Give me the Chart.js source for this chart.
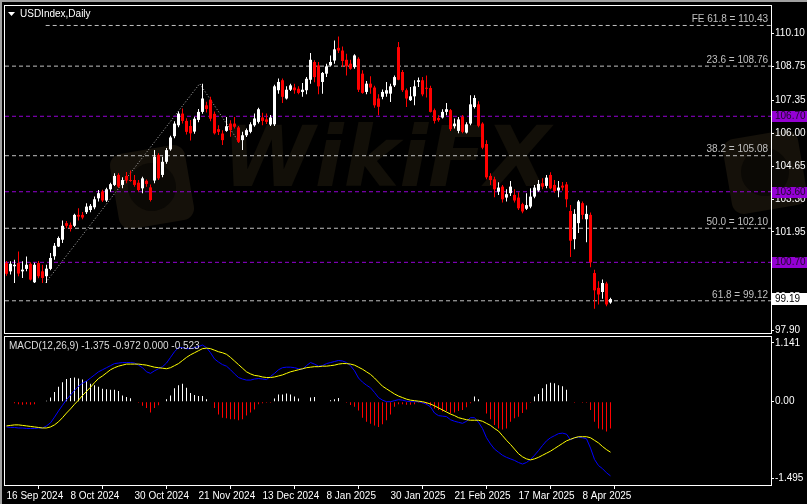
<!DOCTYPE html>
<html>
<head>
<meta charset="utf-8">
<title>USDIndex,Daily</title>
<script src="https://cdn.jsdelivr.net/npm/chart.js@4.4.1/dist/chart.umd.min.js"></script>
<style>
  html, body { margin: 0; padding: 0; background: #000; }
  #wrap { position: relative; width: 807px; height: 504px; overflow: hidden; background: #000; }
  #priceChart { position: absolute; left: 0; top: 0; }
  #macdChart { position: absolute; left: 0; top: 336px; }
  #edgeTop { position: absolute; left: 0; top: 0; width: 807px; height: 2px; background: #a0a0a0; }
  #edgeLeft { position: absolute; left: 0; top: 0; width: 2px; height: 504px; background: #a0a0a0; }
</style>
</head>
<body>
<div id="wrap">
  <canvas id="priceChart" width="807" height="336"></canvas>
  <canvas id="macdChart" width="807" height="168"></canvas>
  <div id="edgeTop"></div>
  <div id="edgeLeft"></div>
</div>
<script>
// Daily bars, 16 Sep 2024 -> 17 Apr 2025 (index 0..151)
const opens = [
  100.67, 100.33, 100.54, 100.67, 100.33, 100.43, 100.64, 99.88, 100.67, 100.33,
  100.13, 100.43, 100.95, 101.35, 101.63, 102.31, 102.24, 102.20, 102.65, 102.65,
  102.76, 102.85, 102.96, 103.33, 103.61, 103.24, 103.70, 103.88, 104.29, 103.88,
  104.25, 104.08, 104.08, 103.97, 103.74, 104.05, 103.78, 104.06, 105.11, 104.29,
  104.83, 105.34, 105.88, 106.33, 106.81, 106.51, 106.30, 106.07, 106.55, 106.88,
  107.15, 107.38, 106.80, 106.17, 105.99, 106.10, 106.40, 106.40, 106.24, 105.72,
  105.92, 106.06, 106.33, 106.47, 106.65, 106.57, 106.36, 106.37, 107.77, 108.18,
  107.43, 107.79, 107.88, 107.83, 107.70, 107.77, 108.20, 108.93, 108.79, 108.11,
  108.45, 108.79, 108.99, 109.51, 109.40, 109.02, 108.86, 108.72, 109.06, 108.45,
  107.70, 108.04, 107.88, 107.43, 107.50, 107.63, 107.63, 107.97, 109.54, 108.52,
  107.77, 107.36, 107.52, 108.11, 108.18, 107.86, 107.86, 106.95, 106.63, 106.65,
  106.88, 106.95, 106.29, 106.10, 106.67, 106.03, 106.40, 107.08, 107.19, 106.40,
  105.56, 104.25, 104.11, 103.60, 103.81, 103.36, 103.54, 103.47, 103.36, 103.09,
  102.90, 102.99, 103.40, 103.65, 103.95, 103.84, 104.29, 103.88, 103.65, 103.85,
  103.90, 102.81, 101.65, 102.31, 103.13, 102.47, 102.65, 100.26, 99.65, 99.48,
  99.83, 99.05
];
const highs = [
  100.75, 100.74, 100.81, 101.15, 100.74, 100.94, 100.70, 100.68, 100.75, 100.60,
  100.60, 101.08, 101.49, 101.76, 102.42, 102.40, 102.34, 102.70, 102.92, 102.77,
  103.13, 103.10, 103.40, 103.67, 103.68, 103.76, 103.97, 104.36, 104.36, 104.19,
  104.41, 104.47, 104.29, 104.08, 104.22, 104.10, 103.90, 105.31, 105.18, 105.04,
  105.40, 105.90, 106.50, 106.90, 107.02, 106.62, 106.55, 106.68, 107.00, 108.04,
  107.30, 107.50, 106.90, 106.33, 106.13, 106.67, 106.54, 106.67, 106.30, 106.06,
  106.20, 106.45, 106.81, 107.05, 106.84, 106.81, 106.75, 108.00, 108.25, 108.25,
  107.93, 108.04, 108.04, 107.93, 108.07, 108.31, 109.30, 109.00, 108.93, 108.52,
  108.86, 109.20, 109.81, 109.98, 109.57, 109.27, 109.02, 109.25, 109.12, 108.59,
  108.15, 108.34, 107.95, 107.60, 107.80, 108.11, 108.04, 108.38, 109.75, 108.60,
  107.84, 107.90, 108.18, 108.29, 108.31, 108.38, 107.95, 107.02, 106.74, 106.99,
  107.25, 107.00, 106.61, 106.67, 106.75, 106.45, 107.56, 107.56, 107.32, 106.45,
  105.72, 104.36, 104.22, 103.99, 103.88, 103.70, 104.04, 103.70, 103.58, 103.15,
  103.54, 103.74, 103.88, 104.08, 104.15, 104.29, 104.40, 104.08, 104.04, 104.00,
  104.00, 103.06, 102.88, 103.26, 103.20, 103.03, 102.75, 100.40, 99.92, 99.99,
  99.90, 99.25
];
const lows = [
  100.15, 100.20, 99.85, 100.13, 100.06, 100.33, 99.95, 99.85, 100.05, 99.85,
  99.85, 100.37, 100.81, 101.33, 101.49, 102.10, 101.97, 102.15, 102.42, 102.47,
  102.69, 102.76, 102.88, 103.20, 103.18, 103.18, 103.60, 103.84, 103.75, 103.74,
  103.95, 104.01, 103.81, 103.61, 103.54, 103.80, 103.20, 103.95, 104.08, 104.19,
  104.75, 105.28, 105.80, 106.25, 106.40, 105.95, 105.70, 105.98, 106.45, 106.80,
  106.85, 106.50, 105.95, 105.93, 105.52, 106.06, 105.86, 106.20, 105.60, 105.31,
  105.85, 106.00, 106.27, 106.40, 106.33, 106.38, 106.30, 106.30, 107.63, 107.25,
  107.39, 107.74, 107.63, 107.60, 107.50, 107.60, 108.04, 108.10, 107.60, 107.63,
  108.31, 108.75, 108.86, 109.30, 108.72, 108.38, 108.61, 108.65, 107.70, 107.63,
  107.60, 107.63, 107.05, 106.74, 107.40, 107.50, 107.29, 107.90, 108.18, 107.70,
  107.08, 107.33, 107.15, 107.90, 107.52, 107.47, 106.85, 106.40, 106.47, 106.61,
  106.74, 106.10, 106.20, 106.00, 106.00, 105.99, 106.33, 107.02, 106.25, 105.35,
  104.11, 103.88, 103.37, 103.47, 103.16, 103.20, 103.43, 103.16, 102.85, 102.72,
  102.85, 102.92, 103.33, 103.60, 103.70, 103.74, 103.70, 103.56, 103.37, 103.65,
  102.96, 100.92, 101.24, 101.90, 102.47, 101.52, 100.50, 98.79, 98.97, 99.20,
  98.90, 99.00
];
const closes = [
  100.23, 100.64, 100.60, 100.24, 100.40, 100.60, 99.99, 100.60, 100.13, 100.06,
  100.44, 100.88, 101.38, 101.70, 102.20, 102.20, 102.10, 102.65, 102.58, 102.54,
  102.99, 103.02, 103.29, 103.54, 103.24, 103.70, 103.91, 104.25, 103.81, 104.08,
  104.06, 104.04, 103.88, 103.67, 104.15, 103.92, 103.26, 105.04, 104.15, 104.83,
  105.31, 105.83, 106.40, 106.81, 106.51, 106.06, 106.00, 106.60, 106.88, 107.43,
  107.00, 106.60, 106.00, 106.06, 105.72, 106.29, 106.13, 106.27, 105.65, 105.92,
  106.13, 106.37, 106.61, 106.99, 106.51, 106.47, 106.65, 107.93, 108.11, 107.50,
  107.79, 107.97, 107.77, 107.66, 107.79, 108.24, 109.02, 108.31, 107.93, 108.48,
  108.75, 108.93, 109.45, 109.40, 108.97, 108.75, 108.65, 109.20, 107.79, 107.66,
  108.04, 107.88, 107.15, 107.09, 107.70, 107.77, 107.93, 108.31, 108.20, 107.77,
  107.43, 107.52, 107.93, 108.18, 107.60, 107.83, 106.88, 106.51, 106.54, 106.88,
  106.99, 106.17, 106.40, 106.57, 106.06, 106.37, 107.19, 107.45, 106.31, 105.41,
  104.19, 104.08, 103.70, 103.77, 103.29, 103.50, 103.81, 103.24, 102.92, 102.79,
  103.05, 103.40, 103.77, 103.92, 103.81, 104.18, 103.74, 103.63, 103.77, 103.77,
  103.29, 101.59, 102.69, 103.20, 102.65, 102.69, 100.70, 99.55, 99.38, 99.85,
  98.97, 99.19
];

// MACD(12,26,9): main line, signal line, histogram
const macdMain = [
  -0.49, -0.50, -0.50, -0.51, -0.51, -0.52, -0.52, -0.52, -0.51, -0.51,
  -0.47, -0.41, -0.30, -0.18, -0.07, 0.04, 0.13, 0.22, 0.30, 0.36,
  0.40, 0.46, 0.52, 0.58, 0.62, 0.66, 0.70, 0.74, 0.75, 0.76,
  0.76, 0.76, 0.75, 0.71, 0.66, 0.58, 0.55, 0.60, 0.64, 0.68,
  0.75, 0.86, 0.97, 1.05, 1.05, 1.03, 1.03, 1.05, 1.07, 1.10,
  1.05, 0.95, 0.83, 0.77, 0.72, 0.69, 0.62, 0.54, 0.47, 0.44,
  0.42, 0.42, 0.44, 0.45, 0.44, 0.43, 0.49, 0.55, 0.62, 0.66,
  0.67, 0.67, 0.66, 0.64, 0.63, 0.70, 0.76, 0.73, 0.69, 0.70,
  0.74, 0.76, 0.78, 0.80, 0.79, 0.76, 0.70, 0.60, 0.46, 0.38,
  0.32, 0.27, 0.18, 0.08, 0.03, 0.00, 0.00, 0.02, 0.04, 0.03,
  0.01, 0.00, 0.00, 0.00, -0.02, -0.05, -0.10, -0.22, -0.27, -0.28,
  -0.29, -0.35, -0.38, -0.40, -0.42, -0.38, -0.31, -0.31, -0.40, -0.52,
  -0.70, -0.82, -0.92, -0.98, -1.04, -1.08, -1.11, -1.14, -1.18, -1.21,
  -1.18, -1.12, -1.04, -0.95, -0.85, -0.76, -0.70, -0.66, -0.62, -0.61,
  -0.63, -0.74, -0.70, -0.69, -0.70, -0.72, -0.90, -1.12, -1.24, -1.30,
  -1.38, -1.44
];
const macdSignal = [
  -0.47, -0.46, -0.45, -0.45, -0.46, -0.47, -0.48, -0.49, -0.50, -0.51,
  -0.51, -0.49, -0.45, -0.39, -0.31, -0.22, -0.14, -0.05, 0.03, 0.12,
  0.20, 0.28, 0.37, 0.45, 0.50, 0.56, 0.62, 0.66, 0.69, 0.71,
  0.73, 0.73, 0.73, 0.73, 0.72, 0.71, 0.69, 0.67, 0.66, 0.65,
  0.64, 0.66, 0.70, 0.74, 0.80, 0.86, 0.91, 0.95, 0.99, 1.03,
  1.04, 1.03, 1.00, 0.97, 0.95, 0.92, 0.86, 0.79, 0.72, 0.65,
  0.58, 0.54, 0.51, 0.50, 0.48, 0.47, 0.47, 0.48, 0.50, 0.52,
  0.55, 0.58, 0.60, 0.62, 0.64, 0.66, 0.67, 0.68, 0.68, 0.69,
  0.69, 0.70, 0.71, 0.73, 0.74, 0.74, 0.73, 0.71, 0.67, 0.63,
  0.58, 0.53, 0.46, 0.38, 0.30, 0.25, 0.20, 0.15, 0.11, 0.08,
  0.05, 0.03, 0.02, 0.01, 0.00, -0.02, -0.045, -0.08, -0.12, -0.16,
  -0.20, -0.24, -0.27, -0.31, -0.33, -0.35, -0.36, -0.36, -0.36, -0.38,
  -0.42, -0.46, -0.52, -0.57, -0.66, -0.75, -0.83, -0.92, -1.01, -1.07,
  -1.11, -1.13, -1.11, -1.08, -1.04, -1.00, -0.96, -0.91, -0.86, -0.81,
  -0.76, -0.73, -0.70, -0.68, -0.68, -0.68, -0.70, -0.75, -0.80, -0.87,
  -0.93, -0.98
];
const macdHist = [
  0.01, 0.00, -0.03, -0.05, -0.06, -0.05, -0.06, -0.05, 0.00, 0.00,
  0.02, 0.08, 0.19, 0.29, 0.38, 0.44, 0.46, 0.47, 0.45, 0.43,
  0.40, 0.35, 0.32, 0.29, 0.25, 0.24, 0.23, 0.23, 0.21, 0.12,
  0.09, 0.065, 0.01, -0.02, -0.08, -0.12, -0.21, -0.12, -0.07, -0.01,
  0.05, 0.12, 0.26, 0.32, 0.35, 0.27, 0.17, 0.13, 0.11, 0.11,
  0.05, 0.00, -0.12, -0.25, -0.31, -0.32, -0.34, -0.34, -0.36, -0.34,
  -0.27, -0.21, -0.15, -0.05, -0.03, -0.02, -0.02, 0.06, 0.14, 0.14,
  0.16, 0.14, 0.10, 0.06, 0.01, 0.00, 0.08, 0.09, 0.01, 0.00,
  0.01, 0.03, 0.05, 0.07, 0.01, -0.02, -0.065, -0.10, -0.17, -0.31,
  -0.39, -0.43, -0.46, -0.49, -0.44, -0.36, -0.25, -0.10, -0.05, -0.05,
  -0.06, -0.06, -0.05, -0.02, -0.03, -0.05, -0.08, -0.13, -0.16, -0.19,
  -0.18, -0.23, -0.21, -0.18, -0.16, -0.11, -0.03, 0.10, 0.05, 0.00,
  -0.23, -0.34, -0.45, -0.52, -0.54, -0.52, -0.39, -0.32, -0.29, -0.22,
  -0.15, -0.02, 0.10, 0.15, 0.26, 0.34, 0.37, 0.36, 0.32, 0.30,
  0.23, 0.00, -0.02, 0.00, -0.02, -0.02, -0.16, -0.39, -0.52, -0.54,
  -0.58, -0.52
];
const macdTitle = 'MACD(12,26,9) -1.375 -0.972 0.000 -0.523';

// axis ticks
const tickIdx = [0, 16, 32, 48, 64, 80, 96, 112, 128, 144];
const tickDates = ['16 Sep 2024', '8 Oct 2024', '30 Oct 2024', '21 Nov 2024', '13 Dec 2024',
  '8 Jan 2025', '30 Jan 2025', '21 Feb 2025', '17 Mar 2025', '8 Apr 2025'];
const priceTicks = [110.10, 108.75, 107.35, 106.00, 104.65, 103.30, 101.95, 100.60, 99.25, 97.90];
const macdTicks = [1.141, 0, -1.495];
const macdTickLabels = ['1.141', '0.00', '-1.495'];

// drawn objects: fibonacci levels, horizontal lines, FE anchor points
const fibNames = ['FE 61.8', '23.6', '38.2', '50.0', '61.8'];
const fibLevels = [110.43, 108.76, 105.08, 102.10, 99.12];
const levelLines = [106.70, 103.60, 100.70];
const feX = [9.8, 48.3, 58.4];
const feY = [99.87, 108.04, 105.57];
const lastPrice = 99.19;

const X_MIN = -0.375, X_MAX = 191.125;
const FONT = '"Liberation Sans", Arial, sans-serif';
Chart.defaults.font.family = FONT;
Chart.defaults.font.size = 10;
Chart.defaults.color = '#ffffff';

const barIdx = closes.map((c, i) => i);
const candleColor = closes.map((c, i) => c >= opens[i] ? '#ffffff' : '#ff0000');

const noPad = s => { s.paddingTop = 0; s.paddingBottom = 0; s.paddingLeft = 0; s.paddingRight = 0; };

function logo(ctx, cx, cy) {
    ctx.save();
    ctx.fillStyle = '#15110a';
    ctx.translate(cx, cy);
    ctx.rotate(-0.17);
    ctx.beginPath();
    ctx.roundRect(-38, -38, 76, 76, 12);
    ctx.fill();
    ctx.fillStyle = '#0b0905';
    ctx.beginPath();
    ctx.arc(0, 0, 24, 0, Math.PI * 2);
    ctx.fill();
    ctx.restore();
}

const pricePlugin = {
    id: 'pricePlugin',
    beforeDraw(chart) {
        // faint watermark, behind everything
        const ctx = chart.ctx;
        logo(ctx, 152, 187);
        logo(ctx, 765, 172);
        ctx.save();
        ctx.fillStyle = '#120f08';
        ctx.font = 'italic bold 84px "DejaVu Sans"';
        ctx.textBaseline = 'alphabetic';
        ctx.fillText('WikiFX', 222, 186);
        ctx.restore();
    },
    afterDraw(chart) {
        const {ctx, chartArea: a} = chart;
        const y = chart.scales.y;
        ctx.save();
        // frame
        ctx.strokeStyle = '#ffffff';
        ctx.lineWidth = 1;
        ctx.strokeRect(a.left - 0.5, a.top - 0.5, a.right - a.left + 1, a.bottom - a.top + 1);
        // title
        ctx.fillStyle = '#ffffff';
        ctx.beginPath();
        ctx.moveTo(8, 12); ctx.lineTo(15, 12); ctx.lineTo(11.5, 16); ctx.closePath();
        ctx.fill();
        ctx.font = '10px ' + FONT;
        ctx.textBaseline = 'middle';
        ctx.textAlign = 'left';
        ctx.fillText('USDIndex,Daily', 20, 14);
        // fibonacci labels
        ctx.fillStyle = '#c0c0c0';
        ctx.textAlign = 'right';
        ctx.textBaseline = 'bottom';
        fibLevels.forEach((lv, k) => {
            ctx.fillText(fibNames[k] + ' = ' + lv.toFixed(2), a.right - 3, y.getPixelForValue(lv) - 1);
        });
        // price boxes on the axis
        ctx.textAlign = 'left';
        ctx.textBaseline = 'middle';
        levelLines.forEach(lv => {
            const py = Math.round(y.getPixelForValue(lv));
            ctx.fillStyle = '#9400d3';
            ctx.fillRect(a.right + 1, py - 5, 36, 11);
            ctx.fillStyle = '#1c0a28';
            ctx.fillText(lv.toFixed(2), a.right + 4, py + 0.5);
        });
        const ly = Math.round(y.getPixelForValue(lastPrice));
        ctx.fillStyle = '#ffffff';
        ctx.fillRect(a.right + 1, ly - 6, 36, 12);
        ctx.fillStyle = '#000000';
        ctx.fillText(lastPrice.toFixed(2), a.right + 4, ly + 0.5);
        ctx.restore();
    }
};

const macdPlugin = {
    id: 'macdPlugin',
    afterDraw(chart) {
        const {ctx, chartArea: a} = chart;
        ctx.save();
        ctx.strokeStyle = '#ffffff';
        ctx.lineWidth = 1;
        ctx.strokeRect(a.left - 0.5, a.top - 0.5, a.right - a.left + 1, a.bottom - a.top + 1);
        ctx.fillStyle = '#dcdcdc';
        ctx.font = '10px ' + FONT;
        ctx.textBaseline = 'middle';
        ctx.fillText(macdTitle, 9, 10);
        ctx.restore();
    }
};

// price panel
new Chart(document.getElementById('priceChart'), {
    type: 'bar',
    data: {
        datasets: [
            {
                label: 'wicks',
                data: barIdx.map(i => ({x: i, y: [lows[i], highs[i]]})),
                backgroundColor: candleColor,
                barThickness: 1, grouped: false, inflateAmount: 0, borderWidth: 0,
                order: 2
            },
            {
                label: 'bodies',
                data: barIdx.map(i => ({x: i, y: [Math.min(opens[i], closes[i]), Math.max(opens[i], closes[i])]})),
                backgroundColor: candleColor,
                barThickness: 3, minBarLength: 1, grouped: false, inflateAmount: 0, borderWidth: 0,
                order: 1
            },
            ...fibLevels.map((lv, k) => ({
                type: 'line',
                data: [{x: k === 0 ? feX[0] : X_MIN, y: lv}, {x: X_MAX, y: lv}],
                borderColor: '#c0c0c0', borderWidth: 1, borderDash: [4, 3],
                pointRadius: 0, order: 3
            })),
            ...levelLines.map(lv => ({
                type: 'line',
                data: [{x: X_MIN, y: lv}, {x: X_MAX, y: lv}],
                borderColor: '#9400d3', borderWidth: 1, borderDash: [4, 3],
                pointRadius: 0, order: 3
            })),
            {
                type: 'line',
                data: feX.map((x, k) => ({x: x, y: feY[k]})),
                borderColor: '#b4b4b4', borderWidth: 1, borderDash: [1, 2],
                pointRadius: 0, order: 3
            }
        ]
    },
    options: {
        responsive: false,
        animation: false,
        devicePixelRatio: 1,
        events: [],
        layout: { padding: { left: 5, top: 6, right: 0, bottom: 3 } },
        plugins: { legend: { display: false }, tooltip: { enabled: false } },
        scales: {
            x: { type: 'linear', display: false, min: X_MIN, max: X_MAX, offset: false },
            y: {
                position: 'right',
                min: 97.797,
                max: 111.23,
                afterBuildTicks: s => { s.ticks = priceTicks.map(v => ({ value: v })); },
                afterFit: s => { s.width = 36; noPad(s); },
                ticks: { color: '#ffffff', padding: 1, autoSkip: false, callback: v => v.toFixed(2) },
                grid: { drawOnChartArea: false, drawTicks: true, tickLength: 3, color: '#ffffff' },
                border: { display: false }
            }
        }
    },
    plugins: [pricePlugin]
});

// MACD panel
new Chart(document.getElementById('macdChart'), {
    type: 'bar',
    data: {
        datasets: [
            {
                type: 'line',
                data: barIdx.map(i => ({x: i, y: macdSignal[i]})),
                borderColor: '#ffff00', borderWidth: 1, pointRadius: 0, tension: 0,
                order: 0
            },
            {
                type: 'line',
                data: barIdx.map(i => ({x: i, y: macdMain[i]})),
                borderColor: '#0000ff', borderWidth: 1, pointRadius: 0, tension: 0,
                order: 0
            },
            {
                data: barIdx.map(i => ({x: i, y: macdHist[i]})),
                backgroundColor: macdHist.map(v => v > 0 ? '#ffffff' : '#ff0000'),
                barThickness: 1, grouped: false, inflateAmount: 0, borderWidth: 0,
                order: 1
            }
        ]
    },
    options: {
        responsive: false,
        animation: false,
        devicePixelRatio: 1,
        events: [],
        layout: { padding: { left: 5, top: 1, right: 0, bottom: 0 } },
        plugins: { legend: { display: false }, tooltip: { enabled: false } },
        scales: {
            x: {
                type: 'linear', min: X_MIN, max: X_MAX, offset: false,
                afterBuildTicks: s => { s.ticks = tickIdx.map(v => ({ value: v })); },
                afterFit: s => { s.height = 19; noPad(s); },
                ticks: {
                    color: '#ffffff', align: 'start', maxRotation: 0, minRotation: 0,
                    autoSkip: false, padding: 1,
                    callback: (v, i) => tickDates[i]
                },
                grid: { drawOnChartArea: false, drawTicks: true, tickLength: 4, color: '#ffffff' },
                border: { display: false }
            },
            y: {
                position: 'right',
                min: -1.617,
                max: 1.256,
                afterBuildTicks: s => { s.ticks = macdTicks.map(v => ({ value: v })); },
                afterFit: s => { s.width = 36; noPad(s); },
                ticks: { color: '#ffffff', padding: 1, autoSkip: false, callback: (v, i) => macdTickLabels[i] },
                grid: { drawOnChartArea: false, drawTicks: true, tickLength: 3, color: '#ffffff' },
                border: { display: false }
            }
        }
    },
    plugins: [macdPlugin]
});
</script>
</body>
</html>
